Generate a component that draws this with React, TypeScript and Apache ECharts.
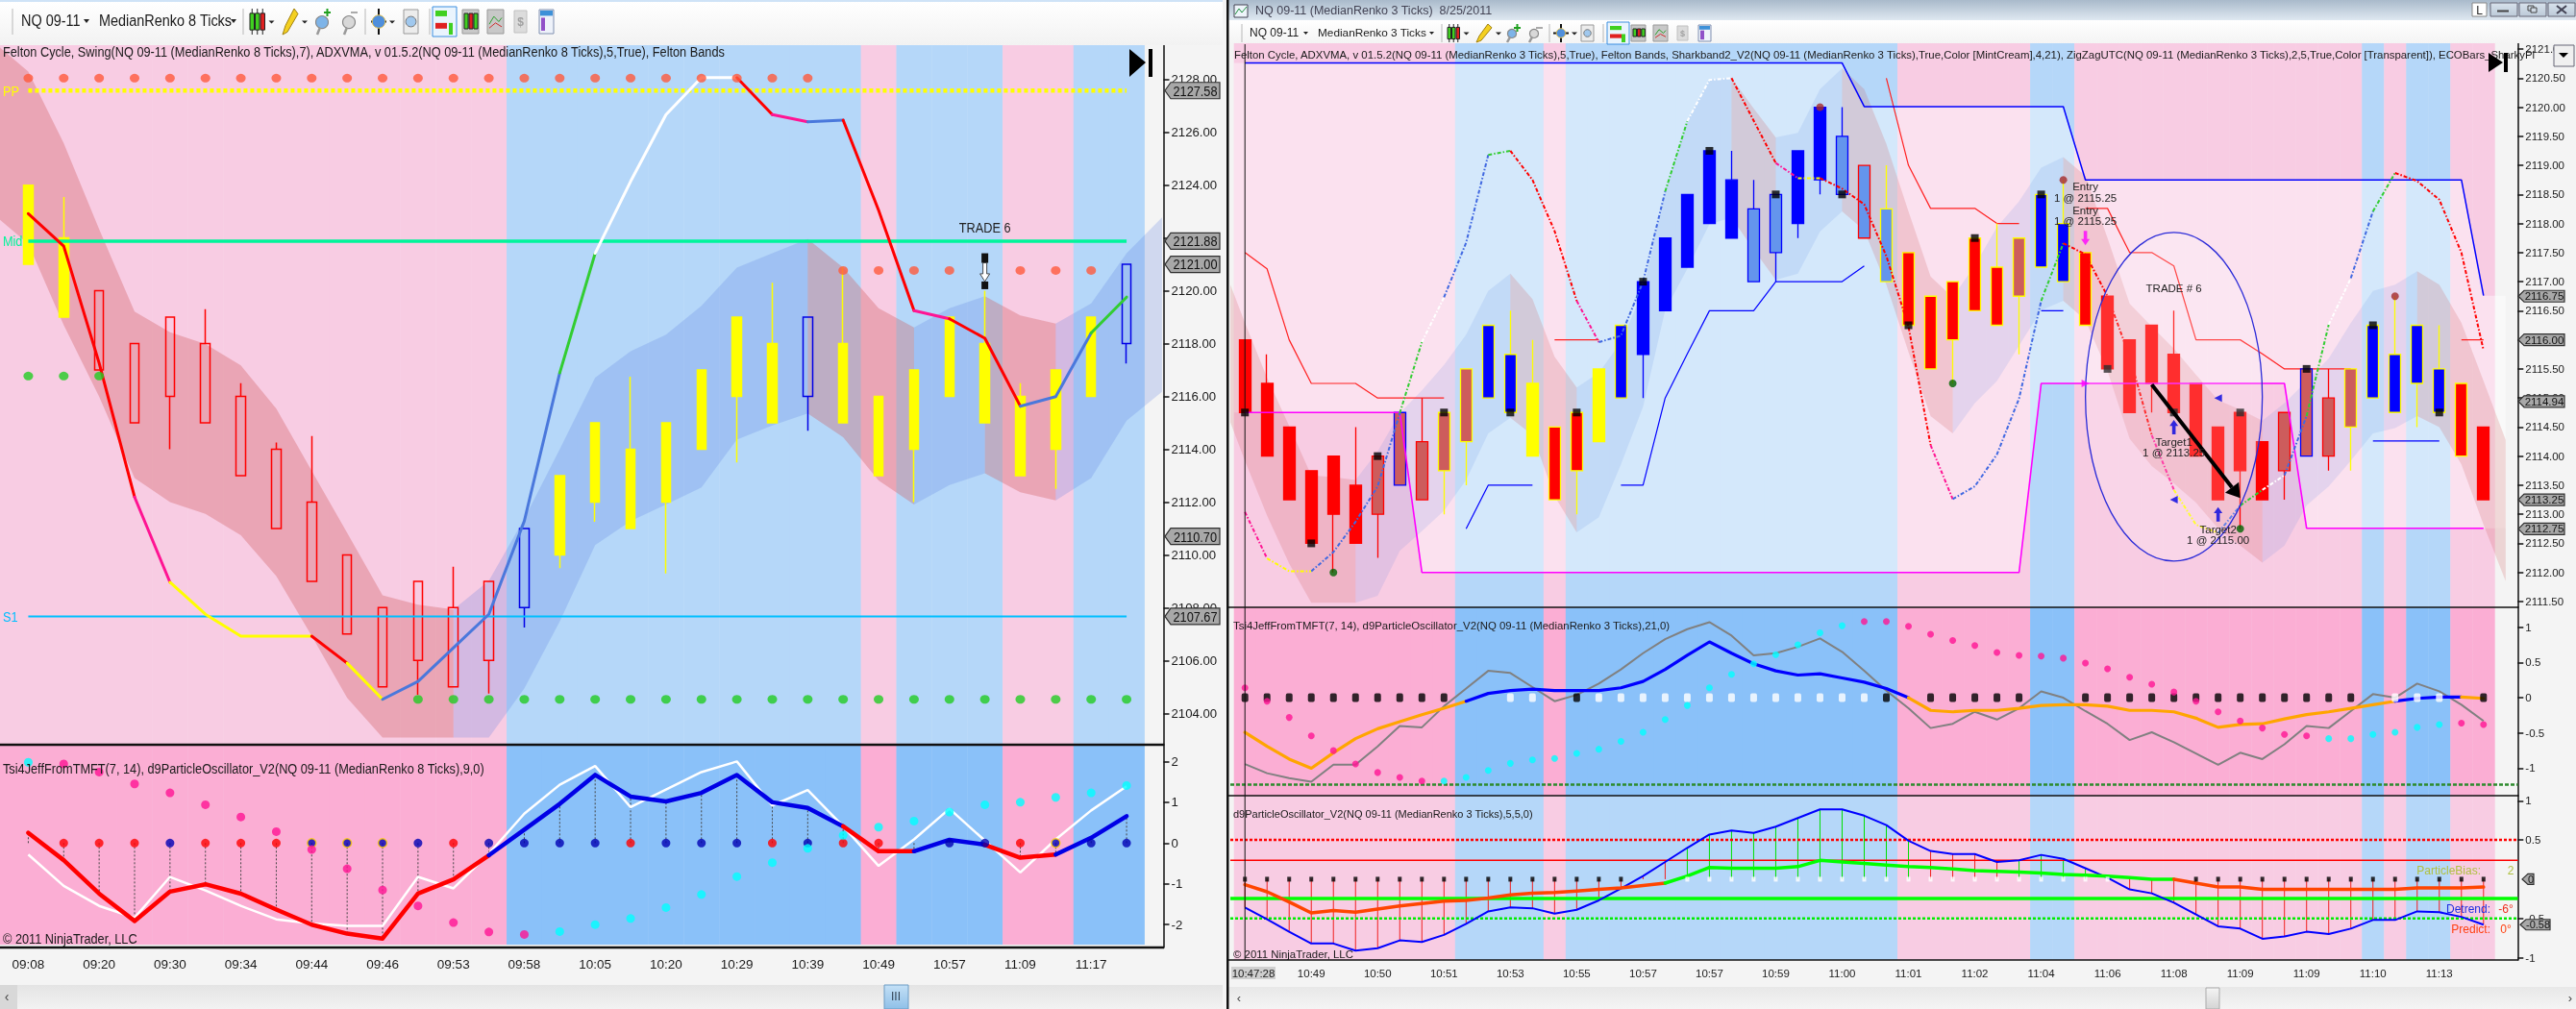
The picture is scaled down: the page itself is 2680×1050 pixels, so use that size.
import React, { useEffect, useRef } from "react";
import * as echarts from "echarts";

const NARROW = '"Liberation Sans",Arial';
const SANS = '"Liberation Sans",Arial';
const SQUEEZE = 0.85;

// ---------- left chart (MedianRenko 8 Ticks) ----------
const leftTimeLabels = ["09:08","09:20","09:30","09:34","09:44","09:46","09:53","09:58","10:05","10:20","10:29","10:39","10:49","10:57","11:09","11:17"];
const leftBg = "PPPPPPPPPPPPPPBBBBBBBBBBPBBBPPBB";
const leftTop = [2124,2122,2120,2118,2119,2118,2116,2114,2112,2110,2108,2109,2108,2109,2111,2113,2115,2114,2115,2117,2119,2118,2119,2118,2116,2117,2119,2118,2116,2117,2119,2121];
const leftBottom = [2121,2119,2117,2115,2116,2115,2113,2111,2109,2107,2105,2106,2105,2106,2108,2110,2112,2111,2112,2114,2116,2115,2116,2115,2113,2114,2116,2115,2113,2114,2116,2118];
const leftHigh = [null,2123.55,null,null,null,2119.3,2116.5,2114.25,2114.5,null,null,null,2109.55,null,null,null,null,2116.75,null,null,null,2120.3,null,2120.9,null,null,null,2120,2116.5,null,null,null];
const leftLow = [null,null,null,null,2114,null,null,null,null,null,null,2104.7,null,2104.75,2107.25,2109.5,2111.25,null,2109.3,null,2113.5,null,2114.7,null,null,2112,null,null,null,2112.5,null,2117.25];
const leftBarStyle = "YYRRRRRRRRRRRRBYYYYYYYBYYYYYYYYB";
const leftBandUpper = [2128.3,2125.59,2122.33,2119.21,2118.43,2117.98,2117.17,2115.54,2113.18,2110.83,2108.47,2108.11,2107.93,2109.02,2111.37,2114,2116.71,2117.71,2118.34,2119.43,2120.88,2121.42,2121.96,2120.88,2119.34,2118.61,2119.34,2119.79,2119.07,2118.76,2119.52,2121.42,2122.78];
const leftBandLower = [2121.78,2118.7,2115.99,2112.91,2112,2111.55,2110.74,2109.2,2106.93,2104.58,2103.08,2103.08,2103.08,2103.08,2104.94,2107.48,2110.37,2111.28,2111.91,2112.55,2114.36,2114.9,2115.35,2114.45,2112.82,2111.91,2112.64,2113.09,2112.37,2112.06,2112.91,2115.08,2116.17];
const leftBandStart = { x: -0.8, up: 2129.21, lo: 2122.69 };
const leftBandRuns = [[-1,12,"r"],[12,22,"b"],[22,25,"r"],[25,27,"b"],[27,29,"r"],[29,32,"b"]];
const leftSwing = [2122.92,2121.69,2117.26,2112.19,2108.96,2107.75,2106.92,2106.92,2106.92,2105.9,2104.53,2105.21,2106.48,2107.75,2111.28,2116.89,2121.42,2124.14,2126.67,2128.07,2128.07,2126.67,2126.4,2126.46,2123.05,2119.25,2118.94,2118.2,2115.63,2115.99,2118.4,2119.76];
const leftSwingSeg = "RRRMYYYYRYBBBBBGWWWWRMBRRMRRBBG";
const leftUpperDotsA = 2128.05;
const leftUpperDotsB = 2120.77;
const leftGreenDotsA = 2116.77;
const leftGreenDotsB = 2104.53;
const leftPP = 2127.58;
const leftMid = 2121.88;
const leftS1 = 2107.67;
const leftTags = ["2127.58","2121.88","2121.00","2110.70","2107.67"];
const leftPriceTicks = [2104,2106,2108,2110,2112,2114,2116,2118,2120,2122,2124,2126,2128];
const leftOscTicks = [-2,-1,0,1,2];
const leftOscLine = [0.25,-0.42,-1.24,-1.91,-1.19,-1.01,-1.24,-1.63,-2,-2.22,-2.34,-1.24,-0.89,-0.3,0.33,0.96,1.67,1.14,1.02,1.23,1.67,1,0.86,0.41,-0.2,-0.2,0.08,-0.04,-0.36,-0.28,0.13,0.66];
const leftOscSeg = "RRRRRRRRRRRRRBBBBBBBBBBRRBBRRBB";
const leftOscWhite = [-0.28,-1.05,-1.54,-1.83,-0.83,-1.16,-1.54,-1.87,-1.97,-2.03,-2.03,-0.83,-1.11,-0.26,0.72,1.43,1.89,0.88,1.31,1.74,2,0.92,1.3,0.41,-0.56,0.09,0.84,0.06,-0.72,0.09,0.8,1.39];
const leftOscDots = [1.98,1.94,1.74,1.45,1.23,0.94,0.64,0.28,-0.16,-0.63,-1.15,-1.54,-1.95,-2.18,-2.24,-2.17,-2,-1.85,-1.58,-1.26,-0.82,-0.48,-0.13,0.19,0.39,0.54,0.76,0.94,1,1.12,1.23,1.41];
const leftOscDotKind = "CMMMMMMMMMMMMMMCCCCCCCCCCCCCCCCC".slice(0, 32);
const leftZeroRow = ".RRRBRRRAAABRBBBBRBBBRBRR.BBRABB";

// ---------- right chart (MedianRenko 3 Ticks) ----------
const rightTimeLabels = ["10:47:28","10:49","10:50","10:51","10:53","10:55","10:57","10:57","10:59","11:00","11:01","11:02","11:04","11:06","11:08","11:09","11:09","11:10","11:13"];
const rightBg = "PPPPPPPPPPBBBBPBBBBBBBBBBBBBBBPPPPPPBBPPPPPPPPPPPPPBPBBPP";
const rTop = [2116,2115.25,2114.5,2113.75,2114,2113.5,2114,2114.75,2114.25,2114.75,2115.5,2116.25,2115.75,2115.25,2114.5,2114.75,2115.5,2116.25,2117,2117.75,2118.5,2119.25,2118.75,2118.25,2118.5,2119.25,2120,2119.5,2119,2118.25,2117.5,2116.75,2117,2117.75,2117.25,2117.75,2118.5,2118,2117.5,2116.75,2116,2116.25,2115.75,2115.25,2114.5,2114.75,2114.25,2114.75,2115.5,2115,2115.5,2116.25,2115.75,2116.25,2115.5,2115.25,2114.5];
const rBottom = [2114.75,2114,2113.25,2112.5,2113,2112.5,2113,2113.5,2113.25,2113.75,2114.25,2115,2114.75,2114,2113.25,2113.75,2114.25,2115,2115.75,2116.5,2117.25,2118,2117.75,2117,2117.5,2118,2118.75,2118.5,2117.75,2117,2116.25,2115.5,2116,2116.5,2116.25,2116.75,2117.25,2117,2116.25,2115.5,2114.75,2115.25,2114.75,2114,2113.25,2113.75,2113.25,2113.75,2114,2114,2114.5,2115,2114.75,2115.25,2114.75,2114,2113.25];
const rWickHigh: Record<number, number> = {1:2115.75,5:2114.5,8:2115,12:2116.5,13:2116,22:2119.25,23:2118.75,27:2120,29:2119,34:2118,37:2118.75,42:2116.5,49:2115.5,52:2116.75,54:2116.25};
const rWickLow: Record<number, number> = {4:2112,6:2112.25,9:2113,10:2113.5,15:2113,18:2115,24:2117,25:2117.75,26:2118.5,32:2115.25,35:2115.75,41:2114.75,45:2112.75,47:2113.25,49:2113.75,50:2113.75,53:2114.5};
const rBarStyle = ["R","R","R","R","R","R","DR","DB","DR","DY","DY","BY","BY","Y","RY","RY","Y","BY","B","B","B","B","B","L","L","B","B","L","LR","LY","RY","RY","RY","RY","RY","DY","BY","BY","RY","R","R","R","R","R","R","R","R","DR","DB","DR","DY","BY","BY","BY","BY","RY","R"];
const rBandUpper = [2116.29,2115.35,2114.52,2113.67,2113.64,2113.59,2114.08,2114.74,2115.13,2115.57,2116.09,2116.84,2117.14,2116.7,2115.71,2115.18,2115.43,2115.96,2116.84,2118.55,2119.76,2120.47,2120.5,2119.98,2119.48,2119.56,2120.31,2120.67,2120.31,2119.37,2118.21,2117.09,2116.73,2117.28,2117.94,2118.38,2118.96,2119.14,2118.82,2117.75,2116.62,2116.23,2115.85,2115.4,2114.96,2114.8,2114.61,2114.91,2115.29,2115.68,2116.29,2116.84,2116.95,2117.18,2116.95,2116.29,2115.29,2114.28];
const rBandLower = [2113.92,2112.98,2112.15,2111.48,2111.48,2111.48,2111.6,2112.37,2112.71,2113.06,2113.59,2114.39,2114.66,2114.36,2113.31,2112.69,2112.95,2113.86,2114.85,2116.51,2117.22,2117.99,2118.1,2117.55,2117.03,2117.14,2117.86,2118.21,2117.88,2116.95,2115.79,2114.69,2114.39,2114.91,2115.29,2115.9,2116.51,2116.67,2116.34,2115.46,2114.3,2113.83,2113.53,2113.2,2112.76,2112.46,2112.17,2112.46,2113.15,2113.48,2113.92,2114.39,2114.48,2114.69,2114.5,2113.86,2112.82,2111.85];
const rBandStart = { x: -0.66, up: 2116.95, lo: 2114.58 };
const rBandRuns = [[-1,5,"r"],[5,12,"b"],[12,15,"r"],[15,22,"b"],[22,24,"r"],[24,27,"b"],[27,32,"r"],[32,37,"b"],[37,46,"r"],[46,53,"b"],[53,57,"r"]];
const rZigzag = [2113.04,2112.24,2112.02,2112.02,2112.35,2112.87,2113.48,2114.74,2115.96,2116.73,2117.67,2119.18,2119.25,2118.75,2117.87,2116.67,2115.96,2116.07,2117,2118.55,2119.76,2120.47,2120.5,2119.77,2119.04,2118.78,2118.78,2118.6,2118.33,2117.44,2116.23,2114.19,2113.26,2113.48,2114.03,2114.99,2116.67,2117.66,2117.47,2116.75,2115.71,2114.36,2113.42,2112.82,2112.68,2113.15,2113.42,2113.67,2114.69,2116.26,2117.06,2118.21,2118.87,2118.73,2118.41,2117.5,2115.82];
const rZigzagSeg = "MYYBBBBGWBBGRRRMBBBGWWRRMYRRRRRMBBBBGRRRRMYYBGWBGWBGRRRR";
const rSharkUpper = [2120.76,2120.76,2120.76,2120.76,2120.76,2120.76,2120.76,2120.76,2120.76,2120.76,2120.76,2120.76,2120.76,2120.76,2120.76,2120.76,2120.76,2120.76,2120.76,2120.76,2120.76,2120.76,2120.76,2120.76,2120.76,2120.76,2120.76,2120.76,2120.01,2120.01,2120.01,2120.01,2120.01,2120.01,2120.01,2120.01,2120.01,2120.01,2118.75,2118.75,2118.75,2118.75,2118.75,2118.75,2118.75,2118.75,2118.75,2118.75,2118.75,2118.75,2118.75,2118.75,2118.75,2118.75,2118.75,2118.75,2116.76,2116.76];
const rSharkLower = [2114.75,2114.75,2114.75,2114.75,2114.75,2114.75,2114.75,2114.75,2112,2112,2112,2112,2112,2112,2112,2112,2112,2112,2112,2112,2112,2112,2112,2112,2112,2112,2112,2112,2112,2112,2112,2112,2112,2112,2112,2112,2115.25,2115.25,2115.25,2115.25,2115.25,2115.25,2115.25,2115.25,2115.25,2115.25,2115.25,2115.25,2112.76,2112.76,2112.76,2112.76,2112.76,2112.76,2112.76,2112.76,2112.76,2112.76];
const N = null;
const rStepRed = [2117.5,2117.22,2116,2115.25,2115.25,2115.25,2115,2115,2115,2115,N,N,N,N,2116,2116,2116,N,N,N,N,N,N,N,N,N,N,N,N,2120.5,2119,2118.26,2118.26,2118.26,2118,2118,N,N,2118.26,2118.26,2117.5,2117.5,2117.27,2116,2116,2116,2115.76,2115.5,2115.5,2115.5,2115.5,N,N,N,N,2116,2116];
const rStepBlue = [N,N,N,N,N,N,N,N,N,N,2112.75,2113.5,2113.5,2113.5,N,N,N,2113.5,2113.5,2115,2115.76,2116.5,2116.5,2116.5,2117,2117,2117,2117,2117.27,N,N,N,N,N,N,N,2116.5,2116.5,N,N,N,N,N,N,N,N,N,N,N,N,N,2114.26,2114.26,2114.26,2114.26,N,N];
const rBlackMarks = [[0,2114.75],[3,2112.5],[6,2114],[9,2114.75],[12,2114.75],[15,2114.75],[18,2117],[21,2119.25],[24,2118.5],[27,2118.5],[30,2116.25],[33,2117.75],[36,2118.5],[39,2115.5],[42,2114.75],[45,2114.75],[48,2115.5],[51,2116.25],[54,2114.75]];
const rBrownMarks = [[26,2120],[37,2118.75],[52,2116.75]];
const rGreenMarks = [[4,2112],[32,2115.25],[45,2112.75]];
const rBlueUp = [[42,2114.5],[44,2113]];
const rBlueLeft = [[44,2115],[42,2113.25]];
const rMagentaDown = [[38,2117.75]];
const rMagentaRight = [[38,2115.25]];
const rTags = ["2116.75","2116.00","2114.94","2113.25","2112.75"];
const rPriceTicks = [2111.5,2112,2112.5,2113,2113.5,2114,2114.5,2115,2115.5,2116,2116.5,2117,2117.5,2118,2118.5,2119,2119.5,2120,2120.5,2121];
const rOsc1Ticks = [-1,-0.5,0,0.5,1];
const rOsc1Line = [-0.49,-0.69,-0.87,-1,-0.78,-0.58,-0.44,-0.34,-0.24,-0.15,-0.05,0.06,0.1,0.12,0.1,0.1,0.1,0.14,0.23,0.4,0.6,0.79,0.63,0.48,0.38,0.32,0.34,0.28,0.22,0.13,0,-0.18,-0.2,-0.18,-0.18,-0.15,-0.11,-0.1,-0.1,-0.12,-0.18,-0.18,-0.2,-0.29,-0.42,-0.38,-0.37,-0.3,-0.24,-0.2,-0.15,-0.1,-0.05,-0.01,0.01,0.01,-0.01];
const rOsc1Seg = "OOOOOOOOOOBBBBBBBBBBBBBBBBBBBBOOOOOOOOOOOOOOOOOOOOOOBBBO";
const rOsc1Gray = [-0.94,-1.07,-1.14,-1.19,-0.95,-0.95,-0.69,-0.4,-0.42,-0.12,0.13,0.38,0.35,0.15,-0.05,0.04,0.2,0.4,0.63,0.83,0.97,1.07,0.88,0.6,0.63,0.72,0.84,0.65,0.38,0.1,-0.15,-0.43,-0.37,-0.2,-0.31,-0.15,0.09,0,-0.19,-0.37,-0.6,-0.49,-0.63,-0.79,-0.95,-0.78,-0.87,-0.66,-0.4,-0.43,-0.19,0.05,0,0.2,0.09,-0.1,-0.33];
const rOsc1Dots = [0.14,-0.05,-0.28,-0.54,-0.75,-0.94,-1.06,-1.13,-1.18,-1.18,-1.13,-1.03,-0.93,-0.88,-0.86,-0.79,-0.73,-0.62,-0.49,-0.31,-0.11,0.14,0.33,0.48,0.61,0.75,0.92,1.02,1.08,1.08,1.01,0.9,0.81,0.74,0.64,0.6,0.59,0.56,0.49,0.41,0.29,0.19,0.08,-0.05,-0.2,-0.33,-0.43,-0.52,-0.54,-0.58,-0.58,-0.52,-0.49,-0.42,-0.38,-0.36,-0.38];
const rOsc1DotKind = "MMMMMMMMMCCCCCCCCCCCCCCCCCCCMMMMMMMMMMMMMMMMMMMMMCCCCCCM";
const rOsc1Row = "kkkkkkkkkk..ww.kwwwwwwwwwwwwwk.kkkkk..kkkkkkkkkkkkk.www.k";
const rOsc1Floor = -1.23;
const rOsc2Ticks = [-1,-0.5,0.5,1];
const rOsc2Blue = [-0.36,-0.51,-0.67,-0.82,-0.82,-0.91,-0.88,-0.78,-0.8,-0.71,-0.57,-0.41,-0.36,-0.37,-0.44,-0.39,-0.27,-0.12,0.04,0.22,0.4,0.57,0.62,0.59,0.67,0.78,0.89,0.89,0.81,0.69,0.49,0.36,0.32,0.32,0.22,0.24,0.31,0.26,0.14,0.02,-0.13,-0.18,-0.3,-0.45,-0.6,-0.63,-0.76,-0.73,-0.67,-0.7,-0.63,-0.52,-0.52,-0.41,-0.42,-0.48,-0.58];
const rOsc2Thick = [-0.07,-0.16,-0.29,-0.43,-0.4,-0.42,-0.38,-0.34,-0.31,-0.28,-0.27,-0.24,-0.2,-0.18,-0.17,-0.15,-0.13,-0.11,-0.08,-0.05,0.04,0.15,0.14,0.14,0.14,0.16,0.24,0.22,0.2,0.18,0.16,0.15,0.13,0.11,0.1,0.09,0.08,0.06,0.05,0.04,0.02,0,0,-0.05,-0.1,-0.1,-0.13,-0.13,-0.13,-0.13,-0.13,-0.13,-0.13,-0.11,-0.11,-0.11,-0.1];
const rOsc2Seg = "OOOOOOOOOOOOOOOOOOOGGGGGGGGGGGGGGGGGGGGGGGOOOOOOOOOOOOOO";
const rOsc2Row = "kkkkkkkkkkkkkkkkkk..wwwwwwwwwwwwwwwwwwww...kkkkkkkkkkkkkk";
const rOsc2StemKind = "rrrrrrrrrrrrrrrrrrrrgggggggggggrrrrggggrrrrrrrrrrrrrrrrrr";
const rOsc2Levels = { redDash: 0.5, redSolid: 0.24, greenSolid: -0.245, greenDash: -0.5 };

const rAnnotations = [
  { i: 38, v: 2118.63, text: "Entry" }, { i: 38, v: 2118.44, text: "1 @ 2115.25" },
  { i: 38, v: 2118.23, text: "Entry" }, { i: 38, v: 2118.04, text: "1 @ 2115.25" },
  { i: 42, v: 2116.89, text: "TRADE # 6" },
  { i: 42, v: 2114.25, text: "Target1" }, { i: 42, v: 2114.06, text: "1 @ 2113.25" },
  { i: 44, v: 2112.74, text: "Target2" }, { i: 44, v: 2112.55, text: "1 @ 2115.00" },
];

// ---------- helpers ----------
const LEFT_SEG: any = { R: "#ff0000", M: "#ff1493", Y: "#ffff00", B: "#4a78dc", G: "#32cd32", W: "#ffffff" };
const ZIG_SEG: any = { R: "#ff0000", M: "#ff1493", Y: "#ffff00", B: "#4169e1", G: "#32cd32", W: "#ffffff" };
const OSC_SEG: any = { R: "#ff0000", B: "#0000e6" };
const R1_SEG: any = { O: "#ffa500", B: "#0000ff" };
const R2_SEG: any = { O: "#ff4500", G: "#00ff00" };

// The ordinal scale rounds fractional positions, so a fractional category is placed from the band width.
function at(api: any, x: number, v: number) {
  const c = api.coord([0, v]);
  return [c[0] + x * api.size([1, 0])[0], c[1]];
}

function segLines(g: number, vals: number[], seg: string, map: any, width: number, dash?: any, z = 7) {
  const out: any[] = [];
  let s = 0;
  for (let k = 1; k <= seg.length; k++) {
    if (k === seg.length || seg[k] !== seg[s]) {
      const from = s, to = k;
      out.push({
        type: "line", xAxisIndex: g, yAxisIndex: g, z, silent: true, showSymbol: false, symbol: "none",
        data: vals.map((v, i) => (i >= from && i <= to ? v : null)),
        lineStyle: { color: map[seg[s]], width, type: dash || "solid", cap: dash ? "butt" : "round", join: "round" },
      });
      s = k;
    }
  }
  return out;
}
function plainLine(g: number, vals: any[], color: string, width: number, z = 5) {
  return { type: "line", xAxisIndex: g, yAxisIndex: g, z, silent: true, showSymbol: false, symbol: "none", data: vals, lineStyle: { color, width } };
}
function bgSeries(g: number, codes: string, colors: any, lo: number, hi: number) {
  const rows = codes.split("").map((_, i) => [i, lo, hi]);
  return {
    type: "custom", xAxisIndex: g, yAxisIndex: g, z: 1, silent: true, data: rows, encode: { x: 0, y: [1, 2] },
    renderItem: (p: any, api: any) => {
      const i = p.dataIndex;
      const a = api.coord([i, hi]), b = api.coord([i, lo]);
      const w = api.size([1, 0])[0];
      return { type: "rect", shape: { x: a[0] - w / 2, y: a[1], width: w + 0.4, height: b[1] - a[1] }, style: { fill: colors[codes[i]] } };
    },
  };
}
function bandSeries(g: number, start: any, up: number[], lo: number[], runs: any[], colors: any, z = 3) {
  return {
    type: "custom", xAxisIndex: g, yAxisIndex: g, z, silent: true, data: runs.map((r) => [r[0], r[1]]), encode: { x: 0, y: 1 },
    renderItem: (p: any, api: any) => {
      const [s, e, c] = runs[p.dataIndex];
      const top: any[] = [], bot: any[] = [];
      for (let j = s; j <= e; j++) {
        const x = j < 0 ? start.x : j;
        top.push(at(api, x, j < 0 ? start.up : up[j]));
        bot.unshift(at(api, x, j < 0 ? start.lo : lo[j]));
      }
      return { type: "polygon", shape: { points: top.concat(bot) }, style: { fill: colors[c] } };
    },
  };
}
function hLine(g: number, x1: number, x2: number, v: number, color: string, width: number, dash?: any, z = 6) {
  return {
    type: "custom", xAxisIndex: g, yAxisIndex: g, z, silent: true, data: [[x1, v, x2]], encode: { x: [0, 2], y: 1 },
    renderItem: (_: any, api: any) => {
      const a = at(api, x1, v), b = at(api, x2, v);
      return { type: "line", shape: { x1: a[0], y1: a[1], x2: b[0], y2: b[1] }, style: { stroke: color, lineWidth: width, lineDash: dash } };
    },
  };
}
function stems(g: number, vals: number[], colorOf: (i: number) => string, dash?: any, z = 4, skip?: (i: number) => boolean) {
  return {
    type: "custom", xAxisIndex: g, yAxisIndex: g, z, silent: true, data: vals.map((v, i) => [i, v]), encode: { x: 0, y: 1 },
    renderItem: (p: any, api: any) => {
      const i = p.dataIndex;
      if (skip && skip(i)) return null;
      const a = api.coord([i, 0]), b = api.coord([i, vals[i]]);
      return { type: "line", shape: { x1: a[0], y1: a[1], x2: b[0], y2: b[1] }, style: { stroke: colorOf(i), lineWidth: 1, lineDash: dash } };
    },
  };
}
function scatter(g: number, pts: any[], color: any, size: any, symbol: any = "circle", z = 8, rotate = 0) {
  return {
    type: "scatter", xAxisIndex: g, yAxisIndex: g, z, silent: true, symbol, symbolSize: size, symbolRotate: rotate,
    data: pts.map((q) => ({ value: [q[0], q[1]], itemStyle: { color: typeof color === "function" ? color(q[0]) : color, borderColor: q[2] || undefined, borderWidth: q[2] ? 1.5 : 0 } })),
  };
}
function rowPts(row: string, keep: string, v = 0) {
  const o: any[] = [];
  row.split("").forEach((c, i) => { if (keep.includes(c)) o.push([i, v]); });
  return o;
}
function tagSeries(g: number, tags: string[], x0: number, x1: number, h: number, font: string, sx = 1) {
  return {
    type: "custom", xAxisIndex: g, yAxisIndex: g, z: 20, silent: true, data: tags.map((t) => [0, parseFloat(t)]), encode: { x: 0, y: 1 },
    renderItem: (p: any, api: any) => {
      const t = tags[p.dataIndex];
      const y = api.coord([0, parseFloat(t)])[1];
      return {
        type: "group",
        children: [
          { type: "polygon", shape: { points: [[x0, y], [x0 + 6, y - h / 2], [x1, y - h / 2], [x1, y + h / 2], [x0 + 6, y + h / 2]] }, style: { fill: "#a8a8a8", stroke: "#303030", lineWidth: 1.2 } },
          { type: "text", x: (x0 + 6 + x1) / 2, y, scaleX: sx, style: { text: t, x: 0, y: 0, align: "center", verticalAlign: "middle", font, fill: "#111" } },
        ],
      };
    },
  };
}
function textSeries(g: number, items: any[], font: string, sx = 1, defColor = "#222") {
  return {
    type: "custom", xAxisIndex: g, yAxisIndex: g, z: 21, silent: true, data: items.map((t) => [Math.round(t.i), t.v]), encode: { x: 0, y: 1 },
    renderItem: (p: any, api: any) => {
      const t = items[p.dataIndex];
      const c = at(api, t.i, t.v);
      return { type: "text", x: c[0], y: c[1], scaleX: sx, style: { text: t.text, x: 0, y: 0, align: t.align || "center", verticalAlign: "middle", font, fill: t.color || defColor } };
    },
  };
}

const P_TOP = { P: "#f8cce3", B: "#b5d7f9" };
const P_OSC = { P: "#fbaed4", B: "#8ac1f9" };
const BAND_L = { r: "rgba(205,85,85,0.32)", b: "rgba(80,120,225,0.22)" };
const BAND_R = { r: "rgba(205,85,85,0.2)", b: "rgba(80,120,225,0.13)" };

function leftBarItem(i: number) {
  const s = leftBarStyle[i];
  const hi = Math.max(leftTop[i], leftHigh[i] ?? leftTop[i]);
  const lo = Math.min(leftBottom[i], leftLow[i] ?? leftBottom[i]);
  const c = s === "Y" ? "#ffff00" : s === "R" ? "#ff0000" : "#0000e6";
  const fill = s === "Y" ? "#ffff00" : "rgba(0,0,0,0)";
  return { value: [leftBottom[i], leftTop[i], lo, hi], itemStyle: { color: fill, color0: fill, borderColor: c, borderColor0: c, borderWidth: 1.5 } };
}
const R_STYLE: any = {
  R: ["#ff0000", "#ff0000"], RY: ["#ff0000", "#ffff00"], DR: ["#cd5c5c", "#ff0000"], DB: ["#cd5c5c", "#0000ff"], DY: ["#cd5c5c", "#ffff00"],
  B: ["#0000ff", "#0000ff"], BY: ["#0000ff", "#ffff00"], L: ["#6495ed", "#0000ff"], LR: ["#6495ed", "#ff0000"], LY: ["#6495ed", "#ffff00"], Y: ["#ffff00", "#ffff00"],
};
function rightBarItem(i: number) {
  const [fill, line] = R_STYLE[rBarStyle[i]];
  const hi = rWickHigh[i] ?? rTop[i];
  const lo = rWickLow[i] ?? rBottom[i];
  return { value: [rBottom[i], rTop[i], lo, hi], itemStyle: { color: fill, color0: fill, borderColor: line, borderColor0: line, borderWidth: 1.3 } };
}

function yAxis(g: number, lo: number, hi: number, ticks: number[], offset: number, fmt: any, font: string, size: number) {
  return {
    type: "value", gridIndex: g, position: "right", offset, min: lo, max: hi, scale: true,
    splitLine: { show: false },
    axisLine: { show: true, onZero: false, lineStyle: { color: "#111", width: 1.5 } },
    axisTick: { show: true, length: 6, lineStyle: { color: "#111", width: 1.5 }, customValues: ticks },
    axisLabel: { show: true, margin: 8, color: "#1a1a1a", fontFamily: font, fontSize: size, customValues: ticks, formatter: fmt },
  };
}
function xHidden(g: number, cats: string[]) {
  return { type: "category", gridIndex: g, data: cats, boundaryGap: true, axisLine: { show: false }, axisTick: { show: false }, axisLabel: { show: false }, splitLine: { show: false } };
}
function xShown(g: number, cats: string[], every: number, font: string, size: number, margin: number, fmt?: any) {
  return {
    type: "category", gridIndex: g, data: cats, boundaryGap: true,
    axisLine: { show: false }, splitLine: { show: false },
    axisTick: { show: true, alignWithLabel: true, interval: every, length: 7, lineStyle: { color: "#111", width: 1.5 } },
    axisLabel: { show: true, interval: every, margin, color: "#1a1a1a", fontFamily: font, fontSize: size, hideOverlap: false, formatter: fmt },
  };
}

function gtext(text: string, x: number, y: number, font: string, fill = "#1a1a1a", align = "left", sx = 1) {
  return { type: "text", z: 100, silent: true, x, y, scaleX: sx, style: { text, x: 0, y: 0, font, fill, align, verticalAlign: "middle" } };
}
function grect(x: number, y: number, w: number, h: number, fill: any, z = -1, stroke?: string) {
  return { type: "rect", z, silent: true, shape: { x, y, width: w, height: h }, style: { fill, stroke, lineWidth: stroke ? 1 : 0 } };
}
function gline(x1: number, y1: number, x2: number, y2: number, stroke: string, lineWidth: number, z = 90) {
  return { type: "line", z, silent: true, shape: { x1, y1, x2, y2 }, style: { stroke, lineWidth } };
}
function gpoly(points: number[][], fill: string, z = 100, stroke?: string) {
  return { type: "polygon", z, silent: true, shape: { points }, style: { fill, stroke, lineWidth: stroke ? 1 : 0 } };
}
const vgrad = (a: string, b: string) => ({ type: "linear", x: 0, y: 0, x2: 0, y2: 1, colorStops: [{ offset: 0, color: a }, { offset: 1, color: b }] });

function toolIcons(p: any) {
  const y = p.y, h = p.h, out: any[] = [];
  p.seps.forEach((x: number) => out.push(gline(x, y, x, y + h, "#b8b8b8", 1, 50)));
  [0, 1, 2].forEach((k) => {
    const x = p.candle + k * p.cw;
    out.push(gline(x + p.cw / 2 - 0.5, y, x + p.cw / 2 - 0.5, y + h, "#222", 1, 50));
    out.push(grect(x, y + h * 0.18, p.cw - 1, h * 0.64, k === 2 ? "#e02020" : "#40d020", 51, "#222"));
  });
  out.push(gpoly([[p.candle + 3 * p.cw + 3, y + h / 2 - 1], [p.candle + 3 * p.cw + 9, y + h / 2 - 1], [p.candle + 3 * p.cw + 6, y + h / 2 + 2]], "#222", 51));
  out.push(gpoly([[p.pencil, y + h], [p.pencil + 3, y + h * 0.65], [p.pencil + 12, y], [p.pencil + 16, y + h * 0.2], [p.pencil + 5, y + h * 0.9]], "#f4d020", 51, "#a08010"));
  out.push(gpoly([[p.pencil + 20, y + h / 2 - 1], [p.pencil + 26, y + h / 2 - 1], [p.pencil + 23, y + h / 2 + 2]], "#222", 51));
  [[p.mag1, "#7eb4e8", "#20a020"], [p.mag2, "#d8d8d8", "#aaa"]].forEach(([x, c, s]: any) => {
    out.push({ type: "circle", z: 51, silent: true, shape: { cx: x + 8, cy: y + h * 0.52, r: h * 0.24 }, style: { fill: c, stroke: "#888", lineWidth: 1.2 } });
    out.push(gline(x + 3, y + h, x + 6, y + h * 0.72, "#999", 2.5, 51));
    out.push(gline(x + 10, y + 4, x + 17, y + 4, s, 2, 51));
    if (x === p.mag1) out.push(gline(x + 13.5, y, x + 13.5, y + 8, s, 2, 51));
  });
  out.push(gline(p.cross, y + h / 2, p.cross + 16, y + h / 2, "#111", 2, 51));
  out.push(gline(p.cross + 8, y, p.cross + 8, y + h, "#111", 2, 51));
  out.push({ type: "circle", z: 52, silent: true, shape: { cx: p.cross + 8, cy: y + h / 2, r: h * 0.25 }, style: { fill: "#4f8fdc", stroke: "#e4c050", lineWidth: 1 } });
  out.push(gpoly([[p.cross + 19, y + h / 2 - 1], [p.cross + 25, y + h / 2 - 1], [p.cross + 22, y + h / 2 + 2]], "#222", 51));
  out.push(grect(p.mag3, y + 1, p.bw - 2, h - 2, "#ececec", 50, "#999"));
  out.push({ type: "circle", z: 51, silent: true, shape: { cx: p.mag3 + p.bw / 2 - 1, cy: y + h / 2, r: h * 0.2 }, style: { fill: "#a0c8ee", stroke: "#777", lineWidth: 1 } });
  out.push(grect(p.active - 1, y - 2, p.bw + 8, h + 4, "#eaf4fd", 50, "#3d8fe0"));
  out.push(grect(p.active + 2, y + 2, 12, h * 0.22, "#40d020", 51));
  out.push(grect(p.active + 2, y + h * 0.55, 12, h * 0.22, "#e02020", 51));
  out.push(grect(p.active + p.bw - 1, y + h * 0.55, 4, h * 0.45, "#40d020", 51));
  out.push(grect(p.b1, y + 1, p.bw, h - 2, "#c8c8c8", 50, "#999"));
  [0, 1, 2].forEach((k) => out.push(grect(p.b1 + 2 + k * (p.bw / 3.4), y + 5, p.bw / 4.2, h - 11, k === 1 ? "#e02020" : "#40d020", 51, "#222")));
  out.push(grect(p.b2, y + 1, p.bw, h - 2, "#c8c8c8", 50, "#999"));
  out.push({ type: "polyline", z: 51, silent: true, shape: { points: [[p.b2 + 2, y + h * 0.6], [p.b2 + p.bw * 0.4, y + h * 0.3], [p.b2 + p.bw * 0.7, y + h * 0.5], [p.b2 + p.bw - 2, y + h * 0.35]] }, style: { stroke: "#30a030", fill: "none", lineWidth: 1 } });
  out.push({ type: "polyline", z: 51, silent: true, shape: { points: [[p.b2 + 2, y + h * 0.75], [p.b2 + p.bw * 0.5, y + h * 0.55], [p.b2 + p.bw - 2, y + h * 0.7]] }, style: { stroke: "#d03030", fill: "none", lineWidth: 1 } });
  out.push(grect(p.b3, y + 2, p.bw - 4, h - 4, "#dcdcdc", 50, "#c0c0c0"));
  out.push(gtext("$", p.b3 + (p.bw - 4) / 2, y + h / 2, `bold ${Math.round(h * 0.45)}px ${SANS}`, "#a0a0a0", "center"));
  out.push(grect(p.b4, y + 1, p.bw - 2, h - 2, "#eef2fa", 50, "#8090b0"));
  out.push(grect(p.b4 + 1, y + 2, p.bw - 4, h * 0.2, "#3d90d8", 51));
  out.push(grect(p.b4 + 2, y + h * 0.35, 4, h * 0.5, "#9050c8", 51));
  return out;
}

export default function App() {
  const ref = useRef<HTMLDivElement>(null);
  useEffect(() => {
    document.body.style.margin = "0";
    const chart = echarts.init(ref.current!, undefined, { renderer: "svg", width: 2680, height: 1050 });

    const leftCats = Array.from({ length: 32 }, (_, i) => (i % 2 === 0 ? leftTimeLabels[i / 2] : ""));
    const rightCats = Array.from({ length: 57 }, (_, i) => (i % 3 === 0 ? rightTimeLabels[i / 3] : ""));

    const series: any[] = [
      // ----- left price -----
      bgSeries(0, leftBg, P_TOP, 2102.81, 2129.3),
      bandSeries(0, leftBandStart, leftBandUpper, leftBandLower, leftBandRuns, BAND_L),
      { type: "candlestick", xAxisIndex: 0, yAxisIndex: 0, z: 5, silent: true, barWidth: 10, data: leftTop.map((_, i) => leftBarItem(i)) },
      scatter(0, leftTop.map((_, i) => [i, leftUpperDotsA]).slice(0, 23), "#ff5a3c", [10, 9]),
      scatter(0, [23,24,25,26,28,29,30].map((i) => [i, leftUpperDotsB]), "#ff5a3c", [10, 9]),
      scatter(0, [0,1,2].map((i) => [i, leftGreenDotsA]), "#22cc22", [10, 9]),
      scatter(0, leftTop.map((_, i) => [i, leftGreenDotsB]).slice(11), "#22cc22", [10, 9]),
      hLine(0, 0, 31, leftPP, "#ffff00", 4.5, [4, 3]),
      hLine(0, 0, 31, leftMid, "#00f59b", 3.5),
      hLine(0, 0, 31, leftS1, "#00bfff", 2),
      ...segLines(0, leftSwing, leftSwingSeg, LEFT_SEG, 3),
      textSeries(0, [{ i: -0.72, v: leftPP, text: "PP", color: "#ffff00", align: "left" }, { i: -0.72, v: leftMid, text: "Mid", color: "#00f59b", align: "left" }, { i: -0.72, v: leftS1, text: "S1", color: "#00bfff", align: "left" }], `15px ${NARROW}`, SQUEEZE),
      textSeries(0, [{ i: 27, v: 2122.4, text: "TRADE 6" }], `15px ${NARROW}`, SQUEEZE),
      {
        type: "custom", xAxisIndex: 0, yAxisIndex: 0, z: 9, silent: true, data: [[27, 2121.42, 2120.06]], encode: { x: 0, y: [1, 2] },
        renderItem: (_: any, api: any) => {
          const a = api.coord([27, 2121.42]), b = api.coord([27, 2120.06]);
          const x = a[0];
          return {
            type: "group", children: [
              { type: "rect", shape: { x: x - 3.5, y: a[1], width: 7, height: 10 }, style: { fill: "#111" } },
              { type: "rect", shape: { x: x - 3.5, y: b[1] - 8, width: 7, height: 8 }, style: { fill: "#111" } },
              { type: "polygon", shape: { points: [[x - 2, a[1] + 10], [x + 2, a[1] + 10], [x + 2, b[1] - 16], [x + 5, b[1] - 16], [x, b[1] - 8], [x - 5, b[1] - 16], [x - 2, b[1] - 16]] }, style: { fill: "#fff", stroke: "#222", lineWidth: 0.8 } },
            ],
          };
        },
      },
      tagSeries(0, leftTags, 1212, 1269, 17, `15px ${NARROW}`, SQUEEZE),
      // ----- left oscillator -----
      bgSeries(1, leftBg, P_OSC, -2.49, 2.41),
      stems(1, leftOscLine, () => "#444", [2, 2], 4),
      scatter(1, rowPts(leftZeroRow, "R"), "#ff0000", [9, 9]),
      scatter(1, rowPts(leftZeroRow, "B"), "#0000b4", [9, 9]),
      scatter(1, rowPts(leftZeroRow, "A").map((q) => [q[0], q[1], "#ffd000"]), "#0000b4", [9, 9]),
      plainLine(1, leftOscWhite, "#ffffff", 2.5, 6),
      ...segLines(1, leftOscLine, leftOscSeg, OSC_SEG, 4.5),
      scatter(1, leftOscDots.map((v, i) => [i, v]), (i: number) => (leftOscDotKind[i] === "C" ? "#00ffff" : "#ff1493"), 9, "circle", 9),
      // ----- right price -----
      bgSeries(2, rightBg, P_TOP, 2111.4, 2121.1),
      {
        type: "custom", xAxisIndex: 2, yAxisIndex: 2, z: 2, silent: true, data: [[0, 2112]], encode: { x: 0, y: 1 },
        renderItem: (_: any, api: any) => {
          const top = rSharkUpper.map((v, j) => api.coord([j, v]));
          const bot = rSharkLower.map((v, j) => api.coord([j, v])).reverse();
          const a = at(api, -0.5, rSharkUpper[0]), b = at(api, -0.5, rSharkLower[0]);
          return { type: "polygon", shape: { points: [a, ...top, ...bot, b] }, style: { fill: "rgba(255,255,255,0.42)" } };
        },
      },
      bandSeries(2, rBandStart, rBandUpper, rBandLower, rBandRuns, BAND_R),
      plainLine(2, rStepRed, "#ff2020", 1.2, 4),
      plainLine(2, rStepBlue, "#0000ff", 1.2, 4),
      plainLine(2, rSharkUpper.slice(0, 57), "#0000ff", 1.5, 6),
      plainLine(2, rSharkLower.slice(0, 57), "#ff00ff", 1.6, 6),
      { type: "candlestick", xAxisIndex: 2, yAxisIndex: 2, z: 5, silent: true, barWidth: 12.5, data: rTop.map((_, i) => rightBarItem(i)) },
      ...segLines(2, rZigzag, rZigzagSeg, ZIG_SEG, 2, [4, 2, 1.5, 2]),
      scatter(2, rBlackMarks, "#000", 8, "rect", 9),
      scatter(2, rBrownMarks, "#a52a2a", 8, "circle", 9),
      scatter(2, rGreenMarks, "#006400", 8, "circle", 9),
      scatter(2, rBlueUp, "#0000e0", [9, 15], "path://M5 0L10 6H7V14H3V6H0Z", 12),
      scatter(2, rMagentaDown, "#ff00ff", [9, 15], "path://M5 14L10 8H7V0H3V8H0Z", 12),
      scatter(2, rBlueLeft, "#0000e0", [8, 8], "triangle", 12, 90),
      scatter(2, rMagentaRight, "#ff00ff", [8, 8], "triangle", 12, -90),
      {
        type: "custom", xAxisIndex: 2, yAxisIndex: 2, z: 10, silent: true, data: [[42, 2115]], encode: { x: 0, y: 1 },
        renderItem: (_: any, api: any) => {
          const c = api.coord([42, 2115.02]);
          return { type: "ellipse", shape: { cx: c[0], cy: c[1], rx: 92, ry: 171 }, style: { fill: "rgba(255,255,255,0.18)", stroke: "#2a2ad8", lineWidth: 1.3 } };
        },
      },
      {
        type: "custom", xAxisIndex: 2, yAxisIndex: 2, z: 11, silent: true, data: [[41, 2115.23], [45, 2113.28]], encode: { x: 0, y: 1 },
        renderItem: (p: any, api: any) => {
          if (p.dataIndex > 0) return null;
          const a = api.coord([41, 2115.23]), b = api.coord([45, 2113.28]);
          const dx = b[0] - a[0], dy = b[1] - a[1], L = Math.hypot(dx, dy), ux = dx / L, uy = dy / L;
          const m = [b[0] - ux * 14, b[1] - uy * 14];
          return {
            type: "group", children: [
              { type: "line", shape: { x1: a[0], y1: a[1], x2: m[0], y2: m[1] }, style: { stroke: "#000", lineWidth: 4 } },
              { type: "polygon", shape: { points: [b, [m[0] - uy * 9, m[1] + ux * 9], [m[0] + uy * 9, m[1] - ux * 9]] }, style: { fill: "#000" } },
            ],
          };
        },
      },
      textSeries(2, rAnnotations, `11.5px ${SANS}`),
      tagSeries(2, rTags, 2620, 2668, 12, `11.5px ${SANS}`),
      // ----- right oscillator 1 -----
      bgSeries(3, rightBg, P_OSC, -1.388, 1.28),
      scatter(3, rowPts(rOsc1Row, "k"), "#000", [7, 9], "roundRect"),
      scatter(3, rowPts(rOsc1Row, "w"), "#fff", [7, 9], "roundRect"),
      plainLine(3, rOsc1Gray, "#808080", 2, 6),
      ...segLines(3, rOsc1Line, rOsc1Seg, R1_SEG, 3.2),
      scatter(3, rOsc1Dots.map((v, i) => [i, v]), (i: number) => (rOsc1DotKind[i] === "C" ? "#00ffff" : "#ff1493"), 7, "circle", 9),
      hLine(3, -0.66, 57.55, rOsc1Floor, "#2e8b2e", 2.5, [4, 2]),
      // ----- right oscillator 2 -----
      bgSeries(4, rightBg, P_TOP, -1.03, 1.065),
      hLine(4, -0.66, 57.55, rOsc2Levels.redDash, "#ff0000", 2.5, [3, 2]),
      hLine(4, -0.66, 57.55, rOsc2Levels.redSolid, "#ff0000", 1.5),
      hLine(4, -0.66, 57.55, rOsc2Levels.greenSolid, "#00ff00", 3.5),
      hLine(4, -0.66, 57.55, rOsc2Levels.greenDash, "#00ee00", 2.5, [3, 2]),
      stems(4, rOsc2Blue, (i) => (rOsc2StemKind[i] === "g" ? "#00e000" : "#f02020")),
      scatter(4, rowPts(rOsc2Row, "k"), "#000", [4, 5], "rect"),
      scatter(4, rowPts(rOsc2Row, "w"), "#fff", [4, 5], "rect"),
      plainLine(4, rOsc2Blue, "#0000ff", 2, 6),
      ...segLines(4, rOsc2Thick, rOsc2Seg, R2_SEG, 3.5),
      tagSeries(4, ["-0.58"], 2622, 2653, 11, `11px ${SANS}`),
      tagSeries(4, ["0"], 2624, 2636, 11, `11px ${SANS}`),
    ];

    const elements: any[] = [
      grect(0, 0, 2680, 1050, "#f4f4f4", -10),
      // left chrome
      grect(0, 0, 1272, 2, "#cfe3f7", 40),
      grect(0, 2, 1272, 45, vgrad("#ffffff", "#f2f2f2"), 40),
      grect(0, 47, 11, 728, "#f8cce3", -1),
      grect(0, 775, 11, 208, "#fbaed4", -1),
      grect(0, 1025, 1272, 25, vgrad("#e4e4e4", "#f2f2f2"), 40),
      grect(0, 1025, 18, 25, "#d8d8d8", 41),
      grect(920, 1025, 25, 25, vgrad("#c4e0f6", "#8fc0e8"), 41, "#6d9cc4"),
      gtext("III", 932, 1037, `12px ${SANS}`, "#345", "center"),
      gtext("‹", 7, 1037, `14px ${SANS}`, "#444", "center"),
      gtext("NQ 09-11", 22, 21, `17px ${NARROW}`, "#1a1a1a", "left", SQUEEZE),
      gpoly([[87, 20], [93, 20], [90, 24]], "#222", 60),
      gtext("MedianRenko 8 Ticks", 103, 21, `17px ${NARROW}`, "#1a1a1a", "left", SQUEEZE),
      gpoly([[240, 20], [246, 20], [243, 24]], "#222", 60),
      gtext("Felton Cycle, Swing(NQ 09-11 (MedianRenko 8 Ticks),7), ADXVMA, v 01.5.2(NQ 09-11 (MedianRenko 8 Ticks),5,True), Felton Bands", 3, 54, `15px ${NARROW}`, "#1a1a1a", "left", SQUEEZE),
      gtext("Tsi4JeffFromTMFT(7, 14), d9ParticleOscillator_V2(NQ 09-11 (MedianRenko 8 Ticks),9,0)", 3, 800, `15px ${NARROW}`, "#1a1a1a", "left", SQUEEZE),
      gtext("© 2011 NinjaTrader, LLC", 3, 977, `15px ${NARROW}`, "#1a1a1a", "left", SQUEEZE),
      gline(0, 775, 1211, 775, "#111", 2.5),
      gline(0, 986, 1211, 986, "#111", 2.5),
      gpoly([[1175, 51], [1192, 65], [1175, 80]], "#000"),
      grect(1195, 51, 4, 29, "#000", 100),
      ...toolIcons({ y: 9, h: 27, seps: [13, 253, 380, 447], candle: 260, cw: 5.5, pencil: 294, mag1: 327, mag2: 355, cross: 386, mag3: 420, active: 451, b1: 481, b2: 507, b3: 535, b4: 561, bw: 17 }),
      // right chrome
      grect(1278, 0, 1402, 21, vgrad("#a9bacb", "#dfe8f1"), 40),
      grect(1278, 21, 1402, 24, vgrad("#ffffff", "#f4f4f4"), 40),
      grect(1276, 0, 2.5, 1050, "#111", 95),
      grect(1284, 5, 14, 13, "#eef4fa", 50, "#445"),
      { type: "polyline", z: 51, silent: true, shape: { points: [[1285, 15], [1289, 9], [1292, 13], [1297, 7]] }, style: { stroke: "#209040", fill: "none", lineWidth: 1 } },
      gtext("NQ 09-11 (MedianRenko 3 Ticks)  8/25/2011", 1306, 10.5, `12.5px ${SANS}`, "#445"),
      gtext("NQ 09-11", 1300, 34, `12px ${SANS}`),
      gpoly([[1356, 33], [1361, 33], [1358.5, 36]], "#222", 60),
      gtext("MedianRenko 3 Ticks", 1371, 34, `11.8px ${SANS}`),
      gpoly([[1487, 33], [1492, 33], [1489.5, 36]], "#222", 60),
      gtext("Felton Cycle, ADXVMA, v 01.5.2(NQ 09-11 (MedianRenko 3 Ticks),5,True), Felton Bands, Sharkband2_V2(NQ 09-11 (MedianRenko 3 Ticks),True,Color [MintCream],4,21), ZigZagUTC(NQ 09-11 (MedianRenko 3 Ticks),2,5,True,Color [Transparent]), ECOBars_SharkyPl", 1284, 57, `11.4px ${SANS}`),
      gtext("Tsi4JeffFromTMFT(7, 14), d9ParticleOscillator_V2(NQ 09-11 (MedianRenko 3 Ticks),21,0)", 1283, 651, `11.4px ${SANS}`),
      gtext("d9ParticleOscillator_V2(NQ 09-11 (MedianRenko 3 Ticks),5,5,0)", 1283, 847, `11px ${SANS}`),
      gtext("© 2011 NinjaTrader, LLC", 1283, 993, `11.4px ${SANS}`),
      gtext("ParticleBias:", 2581, 906, `12px ${SANS}`, "#b0c040", "right"),
      gtext("2", 2612, 906, `12px ${SANS}`, "#b0c040", "center"),
      gtext("Detrend:", 2591, 946, `12px ${SANS}`, "#2030e0", "right"),
      gtext("-6°", 2607, 946, `12px ${SANS}`, "#f03020", "center"),
      gtext("Predict:", 2591, 967, `12px ${SANS}`, "#ff4010", "right"),
      gtext("0°", 2607, 967, `12px ${SANS}`, "#ff4010", "center"),
      gline(1278, 632, 2620, 632, "#111", 1.6),
      gline(1278, 828, 2620, 828, "#111", 1.6),
      gline(1278, 999, 2620, 999, "#111", 1.6),
      gline(1295.2, 46, 1295.2, 999, "#111", 1, 60),
      grect(1281, 1006, 46, 13, "#cfcfcf", 40),
      gtext(rightTimeLabels[0], 1304, 1012.5, `11.5px ${SANS}`, "#1a1a1a", "center"),
      grect(1278, 1027, 1402, 23, vgrad("#e8e8e8", "#f4f4f4"), 40),
      grect(2295, 1028, 14, 22, vgrad("#f4f4f4", "#d4d4d4"), 41, "#aaa"),
      gtext("‹", 1289, 1038, `13px ${SANS}`, "#444", "center"),
      gtext("›", 2674, 1038, `13px ${SANS}`, "#444", "center"),
      gpoly([[2589, 55], [2604, 65], [2589, 75]], "#000"),
      grect(2605, 55, 4, 20, "#000", 100),
      grect(2657, 47, 21, 22, "#f0f0f0", 96, "#667"),
      gpoly([[2662, 55], [2672, 55], [2667, 60]], "#000", 97),
      grect(2572, 3, 15, 14, "#fff", 60, "#888"),
      gtext("L", 2579.5, 10.5, `12px ${SANS}`, "#222", "center"),
      grect(2591, 3, 28, 14, vgrad("#d8e2ec", "#bccad8"), 60, "#667"),
      gline(2598, 11.5, 2610, 11.5, "#444", 2, 61),
      grect(2621, 3, 28, 14, vgrad("#d8e2ec", "#bccad8"), 60, "#667"),
      grect(2630, 6, 6, 5, "none", 61, "#444"),
      grect(2633, 8, 6, 5, "#d0dae5", 61, "#444"),
      grect(2651, 3, 28, 14, vgrad("#d8e2ec", "#bccad8"), 60, "#667"),
      gline(2660, 6, 2670, 14, "#445", 2, 61),
      gline(2670, 6, 2660, 14, "#445", 2, 61),
      ...toolIcons({ y: 25, h: 19, seps: [1292, 1500, 1612, 1668], candle: 1506, cw: 4.5, pencil: 1536, mag1: 1565, mag2: 1588, cross: 1616, mag3: 1645, active: 1673, b1: 1697, b2: 1720, b3: 1745, b4: 1767, bw: 15 }),
    ];

    chart.setOption({
      animation: false,
      backgroundColor: "transparent",
      grid: [
        { left: 11, top: 47, width: 1179.5, height: 728 },
        { left: 11, top: 775, width: 1179.5, height: 211 },
        { left: 1283.7, top: 45, width: 1311.6, height: 587 },
        { left: 1283.7, top: 632, width: 1311.6, height: 196 },
        { left: 1283.7, top: 828, width: 1311.6, height: 171 },
      ],
      xAxis: [
        xHidden(0, leftCats),
        xShown(1, leftCats, 1, NARROW, 13.5, 10),
        xHidden(2, rightCats),
        xHidden(3, rightCats),
        xShown(4, rightCats, 2, SANS, 11.5, 8, (v: string, i: number) => (i === 0 ? "" : v)),
      ],
      yAxis: [
        yAxis(0, 2102.81, 2129.3, leftPriceTicks, 20, (v: number) => v.toFixed(2), NARROW, 13.2),
        yAxis(1, -2.56, 2.41, leftOscTicks, 20, (v: number) => String(v), NARROW, 13.2),
        yAxis(2, 2111.4, 2121.1, rPriceTicks, 24, (v: number) => v.toFixed(2), SANS, 11.5),
        yAxis(3, -1.388, 1.28, rOsc1Ticks, 24, (v: number) => String(v), SANS, 11.5),
        yAxis(4, -1.03, 1.065, rOsc2Ticks, 24, (v: number) => String(v), SANS, 11.5),
      ],
      series,
      graphic: { elements },
    });
    return () => chart.dispose();
  }, []);
  return <div ref={ref} style={{ position: "fixed", left: 0, top: 0, width: 2680, height: 1050 }} />;
}
